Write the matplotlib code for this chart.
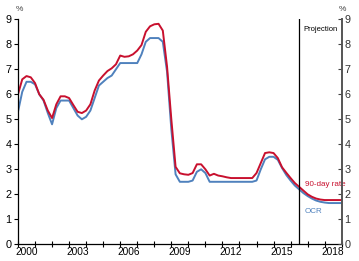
import matplotlib
matplotlib.use("Agg")
import matplotlib.pyplot as plt
import numpy as np

plt.rcParams['font.family'] = ['Liberation Sans', 'DejaVu Sans']

# Quarterly observations, 2000Q1 .. 2019Q1
start_year = 2000
rate_90day = [
    6.00, 6.60, 6.73, 6.68,   # 2000
    6.45, 6.00, 5.78, 5.35,   # 2001
    5.05, 5.60, 5.92, 5.92,   # 2002
    5.85, 5.57, 5.30, 5.25,   # 2003
    5.35, 5.60, 6.15, 6.55,   # 2004
    6.75, 6.93, 7.04, 7.20,   # 2005
    7.55, 7.50, 7.52, 7.60,   # 2006
    7.75, 7.97, 8.50, 8.72,   # 2007
    8.80, 8.82, 8.55, 7.10,   # 2008
    5.00, 3.10, 2.84, 2.80,   # 2009
    2.78, 2.85, 3.20, 3.20,   # 2010
    3.00, 2.75, 2.82, 2.75,   # 2011
    2.72, 2.68, 2.65, 2.65,   # 2012
    2.65, 2.65, 2.65, 2.65,   # 2013
    2.85, 3.25, 3.65, 3.68,   # 2014
    3.65, 3.45, 3.08, 2.86,   # 2015
    2.65, 2.45, 2.30, 2.15,   # 2016
    2.00, 1.90, 1.83, 1.79,   # 2017
    1.77, 1.77, 1.77, 1.77,   # 2018
    1.77,                     # 2019
]
ocr = [
    5.30, 6.10, 6.50, 6.50,   # 2000
    6.40, 6.00, 5.75, 5.25,   # 2001
    4.80, 5.45, 5.75, 5.75,   # 2002
    5.75, 5.45, 5.15, 5.00,   # 2003
    5.10, 5.35, 5.85, 6.35,   # 2004
    6.50, 6.65, 6.75, 7.00,   # 2005
    7.25, 7.25, 7.25, 7.25,   # 2006
    7.25, 7.60, 8.10, 8.25,   # 2007
    8.25, 8.25, 8.10, 6.90,   # 2008
    4.60, 2.80, 2.50, 2.50,   # 2009
    2.50, 2.55, 2.90, 3.00,   # 2010
    2.85, 2.50, 2.50, 2.50,   # 2011
    2.50, 2.50, 2.50, 2.50,   # 2012
    2.50, 2.50, 2.50, 2.50,   # 2013
    2.55, 3.00, 3.40, 3.50,   # 2014
    3.50, 3.38, 3.05, 2.77,   # 2015
    2.55, 2.35, 2.20, 2.05,   # 2016
    1.93, 1.83, 1.75, 1.70,   # 2017
    1.67, 1.65, 1.65, 1.65,   # 2018
    1.65,                     # 2019
]
projection_start = 2016.5
year_labels = [2000, 2003, 2006, 2009, 2012, 2015, 2018]
y_ticks = [0, 1, 2, 3, 4, 5, 6, 7, 8, 9]

x = start_year + np.arange(len(ocr)) / 4.0

RED = '#C8102E'
BLUE = '#4F81BD'

fig = plt.figure(figsize=(3.59, 2.61), dpi=100)
ax = fig.add_axes([0.0501, 0.064, 0.9017, 0.862])

ax.plot(x, ocr, color=BLUE, lw=1.4, solid_joinstyle='round')
ax.plot(x, rate_90day, color=RED, lw=1.4, solid_joinstyle='round')
ax.axvline(projection_start, color='black', lw=0.9)

ax.set_xlim(2000, 2019)
ax.set_ylim(0, 9)

# year boundary ticks, labels centred on the year
ax.set_xticks(np.arange(2000, 2020), minor=False)
ax.set_xticklabels([])
ax.set_xticks([y + 0.5 for y in year_labels], minor=True)
ax.set_xticklabels([str(y) for y in year_labels], minor=True, fontsize=7.3)
ax.tick_params(axis='x', which='major', direction='inout', length=4, width=0.8)
ax.tick_params(axis='x', which='minor', length=0, pad=2)

ax.set_yticks(y_ticks)
ax.set_yticklabels([str(v) for v in y_ticks], fontsize=7.8)
ax.tick_params(axis='y', direction='out', length=3, width=0.8, pad=1.5)

ax2 = ax.twinx()
ax2.set_ylim(0, 9)
ax2.set_yticks(y_ticks)
ax2.set_yticklabels([str(v) for v in y_ticks], fontsize=7.8)
ax2.tick_params(axis='y', direction='in', length=3, width=0.8, pad=2, colors='#444444')
ax2.tick_params(axis='y', labelcolor='#333333')

for a in (ax, ax2):
    a.spines['top'].set_visible(False)
ax.spines['right'].set_visible(False)
ax2.spines['left'].set_visible(False)
ax2.spines['bottom'].set_visible(False)
ax.spines['left'].set_linewidth(0.9)
ax.spines['bottom'].set_linewidth(0.9)
ax2.spines['right'].set_linewidth(1.4)
ax2.spines['right'].set_color('#555555')

fig.text(0.053, 0.962, '%', fontsize=6, ha='center', va='center', color='#444444')
fig.text(0.955, 0.962, '%', fontsize=6, ha='center', va='center', color='#444444')

ax.text(2016.75, 8.6, 'Projection', fontsize=5.5, ha='left', va='center')
ax.text(2016.85, 2.4, '90-day rate', fontsize=5.8, ha='left', va='center', color=RED)
ax.text(2016.85, 1.3, 'OCR', fontsize=5.8, ha='left', va='center', color=BLUE)

fig.savefig('out.png', dpi=100)
